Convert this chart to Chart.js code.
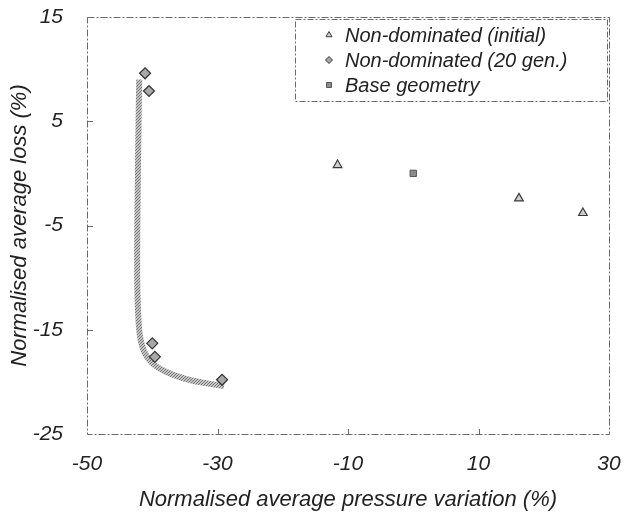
<!DOCTYPE html>
<html>
<head>
<meta charset="utf-8">
<script src="https://cdn.jsdelivr.net/npm/chart.js@4.4.1/dist/chart.umd.min.js"></script>
<style>
html, body { margin: 0; padding: 0; background: #fff; }
#wrap { width: 637px; height: 516px; }
</style>
</head>
<body>
<div id="wrap"><canvas id="scatter-chart"></canvas></div>
<script>
// values
var initialX = [-11.6, 16.2, 26.0];
var initialY = [0.8, -2.4, -3.8];
var gen20X = [-41.1, -40.5, -40.0, -39.6, -29.3];
var gen20Y = [9.6, 7.9, -16.3, -17.6, -19.8];
var baseX = [0];
var baseY = [0];
// hand drawn front (thick grey curve)
var frontX = [-42.0, -42.2, -42.3, -42.0, -41.3, -40.0, -38.0, -35.0, -32.0, -29.0];
var frontY = [9.0, 0.0, -10.0, -15.0, -17.0, -18.2, -19.0, -19.7, -20.1, -20.4];

var xTicks = [-50, -30, -10, 10, 30];
var yTicks = [-25, -15, -5, 5, 15];
var seriesLabels = ["Non-dominated (initial)", "Non-dominated (20 gen.)", "Base geometry"];

function toPoints(xs, ys) {
  return xs.map(function (x, i) { return { x: x, y: ys[i] }; });
}

var FONT = "'Liberation Sans', Arial, sans-serif";

// stippled grey for the curve
var pc = document.createElement("canvas");
pc.width = 3; pc.height = 3;
var pctx = pc.getContext("2d");
pctx.fillStyle = "#c4c4c4"; pctx.fillRect(0, 0, 3, 3);
pctx.fillStyle = "#7a7a7a";
pctx.fillRect(0, 0, 1, 1); pctx.fillRect(2, 1, 1, 1); pctx.fillRect(1, 2, 1, 1);
var stipple = pctx.createPattern(pc, "repeat");

// frame + inner tick marks
var framePlugin = {
  id: "frame",
  beforeDatasetsDraw: function (chart) {
    var a = chart.chartArea, ctx = chart.ctx;
    var xs = chart.scales.x, ys = chart.scales.y;
    ctx.save();
    ctx.strokeStyle = "#6a6a6a";
    ctx.lineWidth = 1;
    ctx.setLineDash([7, 2, 2, 2]);
    ctx.strokeRect(a.left + 0.5, a.top + 0.5, a.right - a.left, a.bottom - a.top);
    ctx.setLineDash([]);
    ctx.beginPath();
    [-15, -5, 5].forEach(function (v) {
      var py = Math.round(ys.getPixelForValue(v)) + 0.5;
      ctx.moveTo(a.left, py); ctx.lineTo(a.left + 6, py);
    });
    [-30, -10, 10].forEach(function (v) {
      var px = Math.round(xs.getPixelForValue(v)) + 0.5;
      ctx.moveTo(px, a.bottom); ctx.lineTo(px, a.bottom - 5);
    });
    ctx.stroke();
    ctx.restore();
  }
};

// legend box inside the plot, top right
var legendPlugin = {
  id: "boxLegend",
  afterDraw: function (chart) {
    var ctx = chart.ctx, a = chart.chartArea;
    var left = 295, top = a.top + 2, right = a.right - 2, bottom = a.top + 84;
    ctx.save();
    ctx.fillStyle = "#fff";
    ctx.fillRect(left, top, right - left, bottom - top);
    ctx.strokeStyle = "#6a6a6a";
    ctx.lineWidth = 1;
    ctx.setLineDash([6, 2, 2, 2]);
    ctx.strokeRect(left + 0.5, top + 0.5, right - left, bottom - top);
    ctx.setLineDash([]);
    ctx.font = "italic 20px " + FONT;
    ctx.textBaseline = "middle";
    ctx.textAlign = "left";
    for (var i = 0; i < 3; i++) {
      var ds = chart.data.datasets[i];
      var y = a.top + 18 + i * 25;
      ctx.fillStyle = ds.backgroundColor;
      ctx.strokeStyle = ds.borderColor;
      Chart.helpers.drawPoint(ctx, { pointStyle: ds.pointStyle, radius: 3.5, rotation: 0, borderWidth: 1 }, 329, y);
      ctx.fillStyle = "#222";
      ctx.fillText(ds.label, 345, y + 1);
    }
    ctx.restore();
  }
};

var ctxScatter = document.getElementById("scatter-chart");

var chartGraph = new Chart(ctxScatter, {
  type: "scatter",
  data: {
    datasets: [
      {
        label: seriesLabels[0],
        data: toPoints(initialX, initialY),
        pointStyle: "triangle",
        pointRadius: 5,
        backgroundColor: "#cfcfcf",
        borderColor: "#3a3a3a",
        borderWidth: 1.2,
        order: 1
      },
      {
        label: seriesLabels[1],
        data: toPoints(gen20X, gen20Y),
        pointStyle: "rectRot",
        pointRadius: 5.5,
        backgroundColor: "#a8a8a8",
        borderColor: "#333",
        borderWidth: 1.2,
        order: 1
      },
      {
        label: seriesLabels[2],
        data: toPoints(baseX, baseY),
        pointStyle: "rect",
        pointRadius: 4.5,
        backgroundColor: "#8c8c8c",
        borderColor: "#555",
        borderWidth: 1,
        order: 1
      },
      {
        label: "front",
        data: toPoints(frontX, frontY),
        showLine: true,
        pointRadius: 0,
        borderColor: stipple,
        backgroundColor: "transparent",
        borderWidth: 6,
        tension: 0.35,
        order: 2
      }
    ]
  },
  options: {
    responsive: true,
    maintainAspectRatio: false,
    animation: false,
    layout: { padding: { left: 0, right: 28, top: 17, bottom: 0 } },
    plugins: {
      legend: { display: false },
      tooltip: { enabled: false }
    },
    scales: {
      x: {
        type: "linear",
        min: -50,
        max: 30,
        afterBuildTicks: function (s) { s.ticks = xTicks.map(function (v) { return { value: v }; }); },
        afterFit: function (s) { s.height = 82; s.paddingLeft = 0; s.paddingRight = 0; },
        grid: { display: false, drawTicks: false },
        border: { display: false },
        ticks: {
          padding: 18,
          color: "#222",
          maxRotation: 0,
          font: { family: FONT, size: 21, style: "italic" }
        },
        title: {
          display: true,
          text: "Normalised average pressure variation (%)",
          color: "#222",
          padding: { top: 0, bottom: 3 },
          font: { family: FONT, size: 22, style: "italic" }
        }
      },
      y: {
        type: "linear",
        min: -25,
        max: 15,
        afterBuildTicks: function (s) { s.ticks = yTicks.map(function (v) { return { value: v }; }); },
        afterFit: function (s) { s.width = 87; s.paddingTop = 0; s.paddingBottom = 0; },
        grid: { display: false, drawTicks: false },
        border: { display: false },
        ticks: {
          padding: 24,
          color: "#222",
          font: { family: FONT, size: 21, style: "italic" }
        },
        title: {
          display: true,
          text: "Normalised average loss (%)",
          color: "#222",
          padding: { top: 7, bottom: 0 },
          font: { family: FONT, size: 22, style: "italic" }
        }
      }
    }
  },
  plugins: [framePlugin, legendPlugin]
});
</script>
</body>
</html>
